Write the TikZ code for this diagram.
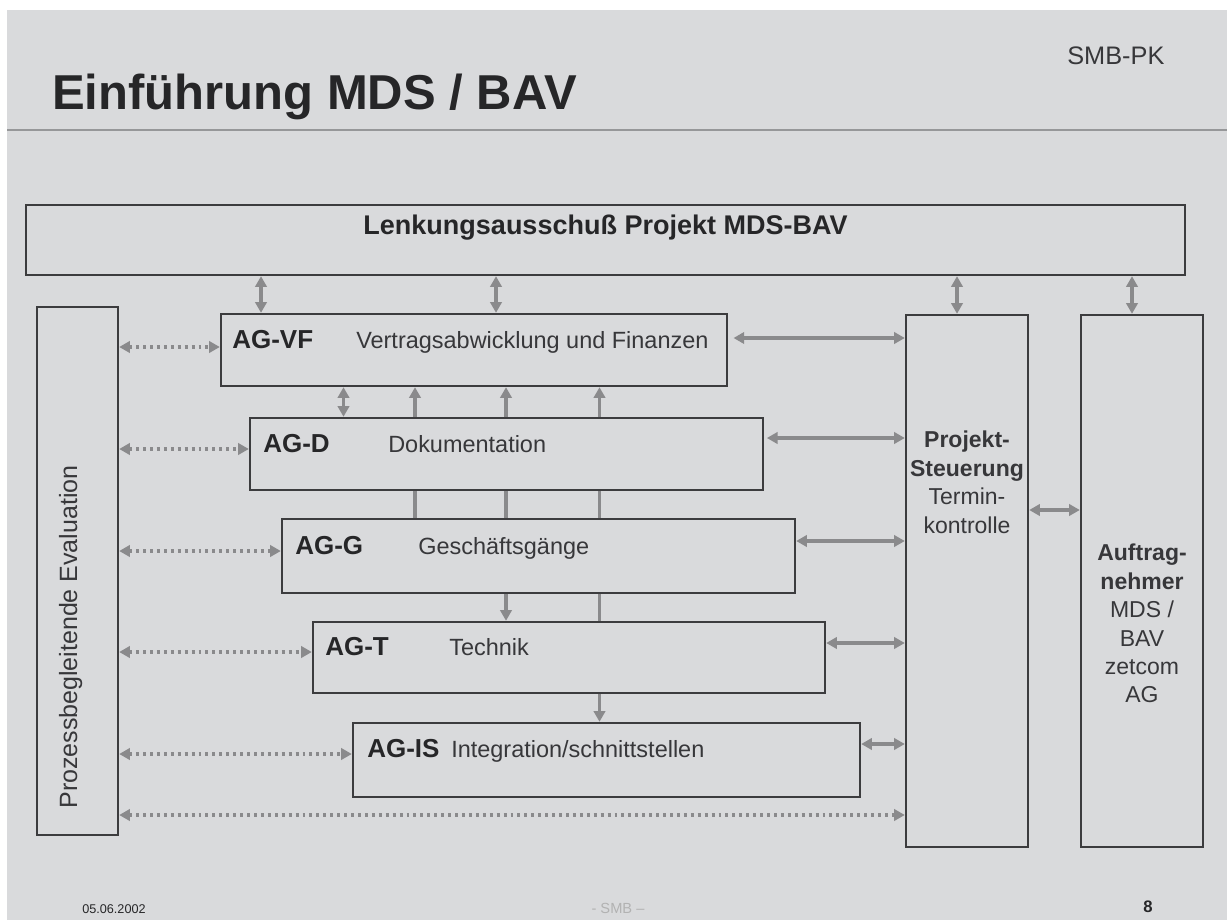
\documentclass[tikz,border=0pt]{standalone}
\usepackage{fontspec}
\setmainfont{Liberation Sans}
\usetikzlibrary{arrows.meta,calc}
\definecolor{bg}{RGB}{217,218,220}
\definecolor{frame}{RGB}{60,60,62}
\definecolor{arr}{RGB}{138,138,140}
\definecolor{ink}{RGB}{38,38,40}
\definecolor{ink2}{RGB}{55,55,58}
\definecolor{rule}{RGB}{150,151,153}
\begin{document}
\begin{tikzpicture}[x=0.75pt,y=-0.75pt,
  box/.style={draw=frame,line width=1.8pt,inner sep=0pt},
  lab/.style={anchor=base west,inner sep=0pt,text=ink,font=\bfseries\fontsize{19.5}{22}\selectfont},
  sub/.style={anchor=base west,inner sep=0pt,text=ink2,font=\fontsize{17.6}{21}\selectfont},
  colt/.style={anchor=north,inner sep=0pt,align=center,text=ink2,font=\fontsize{17.25}{21.3}\selectfont},
  arrline/.style={draw=arr,line width=2.9pt},
  darr/.style={arrline,{Triangle[length=8pt,width=8.5pt]}-{Triangle[length=8pt,width=8.5pt]}},
  uarr/.style={arrline,-{Triangle[length=8pt,width=8.5pt]}},
  dotarr/.style={darr,line width=2.5pt,dash pattern=on 2.2pt off 3pt}]
\useasboundingbox (0,0) rectangle (1227,920);
\fill[white] (0,0) rectangle (1227,920);
\fill[bg] (7,10) rectangle (1227,920);
\draw[rule,line width=1.5pt] (7,130) -- (1227,130);

% header / footer
\node[anchor=base west,inner sep=0pt,text=ink,font=\bfseries\fontsize{36.75}{40}\selectfont] (title) at (52,110) {Einführung MDS / BAV};
\node[anchor=base west,inner sep=0pt,text=ink2,font=\fontsize{19}{22}\selectfont] (smbpk) at (1067,65) {SMB-PK};
\node[anchor=base west,inner sep=0pt,text=ink,font=\fontsize{9.5}{11}\selectfont] (date) at (82,913) {05.06.2002};
\node[anchor=base,inner sep=0pt,text=black!30,font=\fontsize{11}{13}\selectfont] (smb) at (618,913) {- SMB --};
\node[anchor=base,inner sep=0pt,text=ink,font=\bfseries\fontsize{12.5}{14}\selectfont] (page) at (1148,912) {8};

% boxes
\node[box,minimum width=869.25pt,minimum height=52.5pt] (lenk) at (605.5,240) {};
\node[box,minimum width=60.75pt,minimum height=396pt] (eval) at (77.5,571) {};
\node[box,minimum width=379.5pt,minimum height=54pt] (vf) at (474,350) {};
\node[box,minimum width=384.75pt,minimum height=54pt] (d) at (506.5,454) {};
\node[box,minimum width=384.75pt,minimum height=55.5pt] (g) at (538.5,556) {};
\node[box,minimum width=384pt,minimum height=53.25pt] (t) at (569,657.5) {};
\node[box,minimum width=380.25pt,minimum height=55.5pt] (is) at (606.5,760) {};
\node[box,minimum width=91.5pt,minimum height=399pt] (ps) at (967,581) {};
\node[box,minimum width=91.5pt,minimum height=399pt] (an) at (1142,581) {};

% texts
\node[anchor=base,inner sep=0pt,text=ink,font=\bfseries\fontsize{20.25}{24}\selectfont] (lenkt) at (605.5,234) {Lenkungsausschuß Projekt MDS-BAV};
\node[rotate=90,anchor=base,inner sep=0pt,text=ink2,font=\fontsize{18.75}{22}\selectfont] (evalt) at (77,637) {Prozessbegleitende Evaluation};
\node[lab] (vfl) at (232,348) {AG-VF};
\node[sub] (vft) at (356,348) {Vertragsabwicklung und Finanzen};
\node[lab] (dl) at (263,452) {AG-D};
\node[sub] (dt) at (388,452) {Dokumentation};
\node[lab] (gl) at (295,554) {AG-G};
\node[sub] (gt) at (418,554) {Geschäftsgänge};
\node[lab] (tl) at (325,655) {AG-T};
\node[sub] (tt) at (449,655) {Technik};
\node[lab] (isl) at (367,757) {AG-IS};
\node[sub] (ist) at (451,757) {Integration/schnittstellen};
\node[colt] (pst) at (967,431) {\textbf{Projekt-}\\\textbf{Steuerung}\\Termin-\\kontrolle};
\node[colt] (ant) at (1142,544) {\textbf{Auftrag-}\\\textbf{nehmer}\\MDS /\\BAV\\zetcom\\AG};

% helper coordinates
\coordinate (c261) at (261,0);
\coordinate (c496) at (496,0);
\coordinate (c957) at (957,0);
\coordinate (c1132) at (1132,0);
\coordinate (c343) at (343.5,0);
\coordinate (c415) at (415,0);
\coordinate (c506) at (506,0);
\coordinate (c599) at (599.5,0);
\coordinate (r1) at (0,338);
\coordinate (r2) at (0,438);
\coordinate (r3) at (0,541);
\coordinate (r4) at (0,643);
\coordinate (r5) at (0,744);
\coordinate (r6) at (0,510);
\coordinate (l1) at (0,347);
\coordinate (l2) at (0,449);
\coordinate (l3) at (0,551);
\coordinate (l4) at (0,652);
\coordinate (l5) at (0,754);
\coordinate (l6) at (0,815);

% vertical connectors
\draw[darr] (lenk.south -| c261) -- (vf.north -| c261);
\draw[darr] (lenk.south -| c496) -- (vf.north -| c496);
\draw[darr] (lenk.south -| c957) -- (ps.north -| c957);
\draw[darr] (lenk.south -| c1132) -- (an.north -| c1132);
\draw[darr] (vf.south -| c343) -- (d.north -| c343);
\draw[uarr] (d.north -| c415) -- (vf.south -| c415);
\draw[uarr] (d.north -| c506) -- (vf.south -| c506);
\draw[uarr] (d.north -| c599) -- (vf.south -| c599);
\draw[arrline] (g.north -| c415) -- (d.south -| c415);
\draw[arrline] (g.north -| c506) -- (d.south -| c506);
\draw[arrline] (g.north -| c599) -- (d.south -| c599);
\draw[uarr] (g.south -| c506) -- (t.north -| c506);
\draw[arrline] (g.south -| c599) -- (t.north -| c599);
\draw[uarr] (t.south -| c599) -- (is.north -| c599);

% right connectors
\draw[darr,shorten <=4pt] (vf.east |- r1) -- (ps.west |- r1);
\draw[darr,shorten <=2pt] (d.east |- r2) -- (ps.west |- r2);
\draw[darr] (g.east |- r3) -- (ps.west |- r3);
\draw[darr] (t.east |- r4) -- (ps.west |- r4);
\draw[darr] (is.east |- r5) -- (ps.west |- r5);
\draw[darr] (ps.east |- r6) -- (an.west |- r6);

% left dotted connectors
\draw[dotarr] (eval.east |- l1) -- (vf.west |- l1);
\draw[dotarr] (eval.east |- l2) -- (d.west |- l2);
\draw[dotarr] (eval.east |- l3) -- (g.west |- l3);
\draw[dotarr] (eval.east |- l4) -- (t.west |- l4);
\draw[dotarr] (eval.east |- l5) -- (is.west |- l5);
\draw[dotarr] (eval.east |- l6) -- (ps.west |- l6);
\end{tikzpicture}
\end{document}
